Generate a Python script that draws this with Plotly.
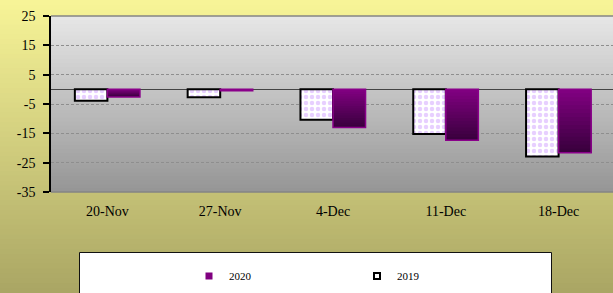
import plotly.graph_objects as go

categories = ["20-Nov", "27-Nov", "4-Dec", "11-Dec", "18-Dec"]
values_2019 = [-3.9, -2.7, -10.4, -15.2, -22.9]
values_2020 = [-2.6, -0.5, -13.0, -17.4, -21.6]
y_ticks = [25, 15, 5, -5, -15, -25, -35]
series_names = ["2020", "2019"]

W, H = 613, 293
ML, MR, MT, MB = 51, 0, 16, 101
PW, PH = W - ML - MR, H - MT - MB


def lerp(c1, c2, t):
    return "rgb(%d,%d,%d)" % tuple(round(a + (b - a) * t) for a, b in zip(c1, c2))


def px_x(px):
    return (px - ML) / PW


def px_y(py):
    return (H - MB - py) / PH


shapes = []
# paper gradient
N = 60
top_c, bot_c = (247, 244, 151), (170, 166, 100)
for i in range(N):
    y0 = i * H / N
    y1 = (i + 1) * H / N + 0.8
    shapes.append(dict(type="rect", xref="paper", yref="paper", layer="below",
                       x0=px_x(-2), x1=px_x(W + 2), y0=px_y(y1), y1=px_y(y0),
                       fillcolor=lerp(top_c, bot_c, i / (N - 1)), line=dict(width=0)))
# plot-area gradient
N2 = 45
ptop, pbot = (230, 230, 230), (150, 150, 150)
for i in range(N2):
    y0 = MT + i * PH / N2
    y1 = min(MT + (i + 1) * PH / N2 + 0.8, H - MB)
    shapes.append(dict(type="rect", xref="paper", yref="paper", layer="below",
                       x0=0, x1=1.01, y0=px_y(y1), y1=px_y(y0),
                       fillcolor=lerp(ptop, pbot, i / (N2 - 1)), line=dict(width=0)))
# plot-area top / bottom borders
for yy in (1, 0):
    shapes.append(dict(type="line", xref="paper", yref="paper", layer="below",
                       x0=0, x1=1.01, y0=yy, y1=yy, line=dict(color="#858585", width=1.5)))
# legend box
shapes.append(dict(type="rect", xref="paper", yref="paper", layer="below",
                   x0=px_x(79.5), x1=px_x(551.5), y0=px_y(H + 5), y1=px_y(252.5),
                   fillcolor="white", line=dict(color="#111111", width=1)))

fig = go.Figure()

# 2019 bars: white with dotted pattern, black outline
fig.add_trace(go.Bar(
    x=categories, y=values_2019, name="2019", offsetgroup="a", showlegend=False,
    marker=dict(color="white", line=dict(color="black", width=2),
                pattern=dict(shape=".", fgcolor="#cf9fff", bgcolor="white",
                             size=6, solidity=0.45)),
))

# 2020 bars: vertical gradient built from overlapping slices of each bar
NS = 16
c_top, c_bot = (128, 0, 128), (58, 0, 62)
for k in range(NS):
    fig.add_trace(go.Bar(
        x=categories, y=[v * (1 - k / NS) for v in values_2020],
        base=[v * k / NS for v in values_2020],
        offsetgroup="b", showlegend=False, hoverinfo="skip",
        marker=dict(color=lerp(c_top, c_bot, k / (NS - 1)), line=dict(width=0)),
    ))
fig.add_trace(go.Bar(
    x=categories, y=values_2020, name="2020", offsetgroup="b", showlegend=False,
    marker=dict(color="rgba(0,0,0,0)", line=dict(color="#8a008a", width=1.5)),
))

# legend entries
fig.add_trace(go.Scatter(x=[None], y=[None], mode="markers", name=series_names[0],
                         marker=dict(symbol="square", size=7, color="#800080",
                                     line=dict(color="#800080", width=0))))
fig.add_trace(go.Scatter(x=[None], y=[None], mode="markers", name=series_names[1],
                         marker=dict(symbol="square", size=6, color="white",
                                     line=dict(color="black", width=2))))

fig.update_layout(
    width=W, height=H,
    margin=dict(l=ML, r=MR, t=MT, b=MB, pad=0),
    paper_bgcolor="#d8d488", plot_bgcolor="rgba(0,0,0,0)",
    barmode="group", bargap=0.423, bargroupgap=0,
    font=dict(family="Liberation Serif, Times New Roman, serif", size=14, color="black"),
    shapes=shapes,
    showlegend=True,
    legend=dict(orientation="h", x=px_x(189), xanchor="left", y=px_y(276), yanchor="middle",
                entrywidth=123, entrywidthmode="pixels", itemwidth=30,
                bgcolor="rgba(0,0,0,0)", borderwidth=0,
                font=dict(family="Liberation Serif, Times New Roman, serif", size=11)),
    xaxis=dict(range=[-0.5, 4.5 - 2 / 112.75], showgrid=False, zeroline=False,
               showline=False, ticks="", ticklabelstandoff=9, fixedrange=True),
    yaxis=dict(range=[-35, 25], tickvals=y_ticks, ticktext=[str(t) for t in y_ticks],
               showgrid=True, gridcolor="#8e8e8e", griddash="3px,2px", gridwidth=1,
               zeroline=True, zerolinecolor="#444444", zerolinewidth=1.2,
               showline=True, linecolor="black", linewidth=1.5,
               ticks="outside", ticklen=6, tickcolor="black", tickwidth=1.5,
               ticklabelstandoff=5, fixedrange=True),
)

fig.write_html("out.html", config={"displayModeBar": False},
               post_script="document.body.style.margin='0';")
